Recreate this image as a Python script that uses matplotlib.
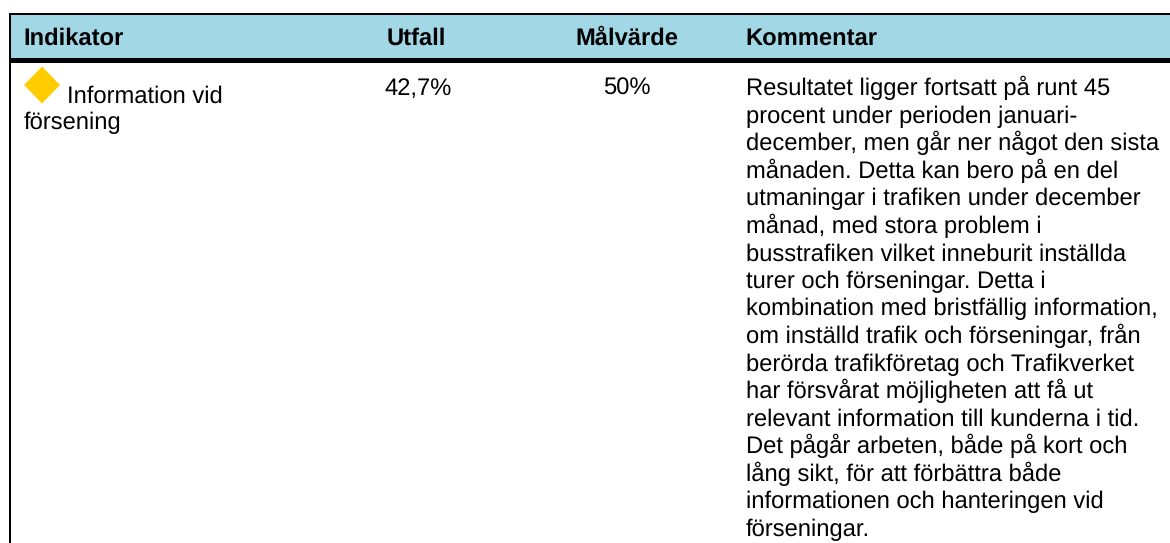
import matplotlib.pyplot as plt
from matplotlib.patches import Polygon, Rectangle

plt.rcParams['font.family'] = ['Liberation Sans', 'DejaVu Sans']
plt.rcParams['text.hinting'] = 'none'
plt.rcParams['text.hinting_factor'] = 8

W = 1170
H = 543

headers = ["Indikator", "Utfall", "Målvärde", "Kommentar"]
utfall = "42,7%"
malvarde = "50%"
indikator_rad1 = "Information vid"
indikator_rad2 = "försening"
kommentar = [
    "Resultatet ligger fortsatt på runt 45",
    "procent under perioden januari-",
    "december, men går ner något den sista",
    "månaden. Detta kan bero på en del",
    "utmaningar i trafiken under december",
    "månad, med stora problem i",
    "busstrafiken vilket inneburit inställda",
    "turer och förseningar. Detta i",
    "kombination med bristfällig information,",
    "om inställd trafik och förseningar, från",
    "berörda trafikföretag och Trafikverket",
    "har försvårat möjligheten att få ut",
    "relevant information till kunderna i tid.",
    "Det pågår arbeten, både på kort och",
    "lång sikt, för att förbättra både",
    "informationen och hanteringen vid",
    "förseningar.",
]

fig = plt.figure(figsize=(W / 100, H / 100), dpi=100)
ax = fig.add_axes([0, 0, 1, 1])
ax.set_xlim(0, W)
ax.set_ylim(H, 0)
ax.axis("off")

# rubrikrad och ramar
ax.add_patch(Rectangle((10, 15), W - 10, 44, facecolor="#a2d7e6", edgecolor="none"))
ax.add_patch(Rectangle((9, 13), W - 9, 2.2, facecolor="black", edgecolor="none"))
ax.add_patch(Rectangle((9, 58), W - 9, 5.3, facecolor="black", edgecolor="none"))
ax.add_patch(Rectangle((9, 13), 2, H - 13, facecolor="black", edgecolor="none"))

fs = 17.1
ax.text(23.5, 45, headers[0], fontsize=fs, fontweight="bold", va="baseline", ha="left")
ax.text(416, 45, headers[1], fontsize=fs, fontweight="bold", va="baseline", ha="center")
ax.text(627, 45, headers[2], fontsize=fs, fontweight="bold", va="baseline", ha="center")
ax.text(745.5, 45, headers[3], fontsize=fs, fontweight="bold", va="baseline", ha="left")

# gul romb
ax.add_patch(Polygon([(42, 66.5), (60, 85), (42, 103.5), (24, 85)], facecolor="#ffcc00", edgecolor="none"))
ax.text(67, 103, indikator_rad1, fontsize=fs, va="baseline", ha="left")
ax.text(23.5, 129.5, indikator_rad2, fontsize=fs, va="baseline", ha="left")

ax.text(418, 95, utfall, fontsize=fs, va="baseline", ha="center")
ax.text(627, 95, malvarde, fontsize=fs, va="baseline", ha="center")

for i, rad in enumerate(kommentar):
    ax.text(745.5, 95 + i * 27.56, rad, fontsize=fs, va="baseline", ha="left")

fig.savefig("out.png", dpi=100)
